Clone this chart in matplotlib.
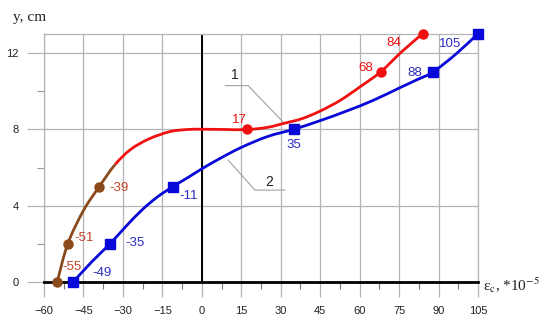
import matplotlib
matplotlib.use('Agg')
import matplotlib.pyplot as plt
from matplotlib.path import Path
from matplotlib.patches import PathPatch
from matplotlib.ticker import MultipleLocator

# marker points (strain *1e-5, height cm) for curve 1 and curve 2
c1_x = [-55, -51, -39, 17, 68, 84]
c1_y = [0, 2, 5, 8, 11, 13]
c2_x = [-49, -35, -11, 35, 88, 105]
c2_y = [0, 2, 5, 8, 11, 13]

# traces of the drawn lines
line1_x = [-55, -51, -45, -39, -33, -27, -20, -12, -5, 0, 8, 17, 25, 31, 38,
           45, 52.5, 60, 68, 76, 84]
line1_y = [0, 2, 3.75, 5.0, 6.15, 6.95, 7.5, 7.88, 7.99, 8.0, 7.99, 7.98, 8.1,
           8.3, 8.55, 8.95, 9.5, 10.2, 11, 12.05, 13]
brown_upto = 4  # line 1 is brown up to this trace index, red after it
line2_x = [-49, -42, -35, -29, -23, -17, -11, -5, 0, 7, 15, 25, 35, 45, 55, 65,
           75, 82, 88, 96.8, 105]
line2_y = [0, 1.05, 2.0, 2.9, 3.75, 4.45, 5.0, 5.5, 5.93, 6.48, 7.05, 7.62,
           8.0, 8.45, 8.95, 9.5, 10.15, 10.6, 11.0, 11.95, 13]

# value labels
c1_lbl = ['-55', '-51', '-39', '17', '68', '84']
c2_lbl = ['-49', '-35', '-11', '35', '88', '105']

red = '#f01010'
blue = '#0808d8'
brown = '#8a4a1c'
grid_c = '#b4b4b4'


def smooth(xs, ys, i0, i1):
    # Catmull-Rom through the trace, drawn as bezier segments i0..i1
    n = len(xs)
    verts = [(xs[i0], ys[i0])]
    codes = [Path.MOVETO]
    for i in range(i0, i1):
        a = max(i - 1, 0)
        d = min(i + 2, n - 1)
        c1 = (xs[i] + (xs[i + 1] - xs[a]) / 6, ys[i] + (ys[i + 1] - ys[a]) / 6)
        c2 = (xs[i + 1] - (xs[d] - xs[i]) / 6, ys[i + 1] - (ys[d] - ys[i]) / 6)
        verts += [c1, c2, (xs[i + 1], ys[i + 1])]
        codes += [Path.CURVE4] * 3
    return Path(verts, codes)


fig = plt.figure(figsize=(5.5, 3.23), dpi=100)
ax = fig.add_axes([0.08, 0.126, 0.789, 0.77])

ax.set_xlim(-60, 105)
ax.set_ylim(0, 13)
ax.xaxis.set_major_locator(MultipleLocator(15))
ax.xaxis.set_minor_locator(MultipleLocator(7.5))
ax.yaxis.set_major_locator(MultipleLocator(4))
ax.yaxis.set_minor_locator(MultipleLocator(2))
ax.grid(True, which='major', color=grid_c, lw=0.9)

for s in ['left', 'right', 'top']:
    ax.spines[s].set_color(grid_c)
    ax.spines[s].set_linewidth(0.9)
ax.spines['bottom'].set_color('black')
ax.spines['bottom'].set_linewidth(2)
ax.axvline(0, color='black', lw=1.4, zorder=2)

ax.tick_params(axis='both', which='major', direction='out', color=grid_c,
               width=0.9, labelsize=8, labelcolor='#222222')
ax.tick_params(axis='x', which='major', length=11, pad=6)
ax.tick_params(axis='y', which='major', length=12, pad=6)
ax.tick_params(axis='x', which='minor', length=5, color='#777777', width=0.8)
ax.tick_params(axis='y', which='minor', length=5, color='#999999', width=0.8)
for lab in ax.get_xticklabels() + ax.get_yticklabels():
    lab.set_fontfamily('Liberation Sans')

# lines
ax.add_patch(PathPatch(smooth(line2_x, line2_y, 0, len(line2_x) - 1),
                       fill=False, ec=blue, lw=2, zorder=3))
ax.add_patch(PathPatch(smooth(line1_x, line1_y, brown_upto, len(line1_x) - 1),
                       fill=False, ec=red, lw=2, zorder=3))
ax.add_patch(PathPatch(smooth(line1_x, line1_y, 0, brown_upto),
                       fill=False, ec=brown, lw=2, zorder=3))
ax.plot(c2_x, c2_y, ls='none', marker='s', ms=6.5, color=blue, zorder=4, clip_on=False)
ax.plot(c1_x[3:], c1_y[3:], ls='none', marker='o', ms=6.5, color=red, zorder=4, clip_on=False)
ax.plot(c1_x[:3], c1_y[:3], ls='none', marker='o', ms=6.5, color=brown, zorder=4, clip_on=False)

# value labels next to the points (offsets in points)
lbl_font = dict(fontsize=9.5, family='Liberation Sans', ha='center', va='center',
                textcoords='offset points')
c1_off = [(11, 11), (12, 4), (14, -1), (-5, 7), (-11, 3), (-21, -6.5)]
c1_col = ['#c0432a'] * 3 + [red] * 3
for x, y, t, o, c in zip(c1_x, c1_y, c1_lbl, c1_off, c1_col):
    ax.annotate(t, (x, y), xytext=o, color=c, **lbl_font)
c2_off = [(21, 7), (18, 0.5), (11, -6.5), (0, -11), (-13, -0.5), (-20, -7.5)]
for x, y, t, o in zip(c2_x, c2_y, c2_lbl, c2_off):
    ax.annotate(t, (x, y), xytext=o, color='#2b2bc0', **lbl_font)

# curve numbers with leader lines
lead = dict(color='#a0a0a0', lw=0.8, zorder=2)
ax.plot([8.9, 17.6, 30.9], [10.28, 10.28, 8.38], **lead)
ax.plot([10, 20.2, 31.6], [6.39, 4.82, 4.82], **lead)
ax.text(12.6, 10.86, '1', ha='center', va='center', fontsize=10,
        family='Liberation Sans', color='#222222')
ax.text(25.6, 5.24, '2', ha='center', va='center', fontsize=10,
        family='Liberation Sans', color='#222222')

# axis names
plt.rcParams['mathtext.fontset'] = 'stix'
fig.text(0.023, 0.945, 'y, cm', fontsize=11, family='Liberation Serif',
         ha='left', va='center', color='#222222')
fig.text(0.878, 0.118, 'ε$_{\\mathrm{c}}$, *10$^{\\mathrm{−5}}$', fontsize=11,
         family='Liberation Serif', ha='left', va='center', color='#222222')

fig.savefig('out.png', dpi=100)
